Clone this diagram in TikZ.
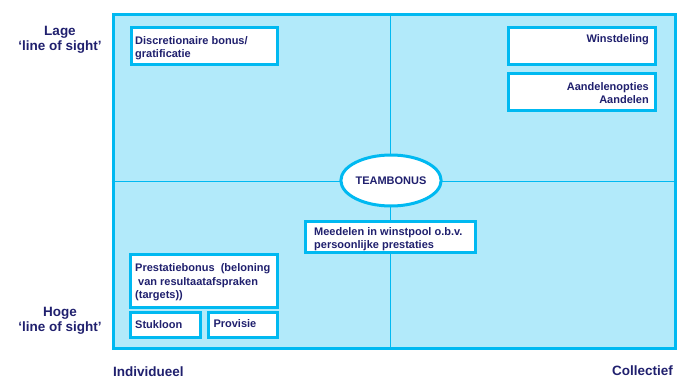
\documentclass[tikz,border=0pt]{standalone}
\usepackage{fontspec}
\setmainfont{Liberation Sans}
\usepackage{tikz}
\usetikzlibrary{shapes.geometric}
\usetikzlibrary{positioning}

\definecolor{gridfill}{RGB}{178,234,250}
\definecolor{gridline}{RGB}{0,185,241}
\definecolor{navy}{RGB}{32,32,110}

\tikzset{
  box/.style={draw=gridline, line width=3pt, fill=white, inner sep=0pt},
  boxtext/.style={text=navy, font=\fontsize{11}{13.5}\selectfont\bfseries, inner sep=0pt},
  axislabel/.style={text=navy, font=\fontsize{13.5}{15}\selectfont\bfseries, inner sep=0pt},
  midline/.style={draw=gridline, line width=1.2pt}
}

\begin{document}
\begin{tikzpicture}[x=1pt,y=-1pt]
  \useasboundingbox (0,0) rectangle (686,378);
  % quadrant field
  \node[draw=gridline, line width=3pt, fill=gridfill, inner sep=0pt,
        minimum width=562pt, minimum height=334.5pt] (field) at (394,181.25) {};
  \coordinate (vtop) at (390.5,14);
  \coordinate (vbot) at (390.5,348.5);
  \draw[midline] (vtop) -- (vbot);
  \draw[midline] (field.west) -- (field.east);

  % boxes
  \node[box, minimum width=146.7pt, minimum height=36.6pt] (discr) at (204.35,46) {};
  \node[box, minimum width=147.4pt, minimum height=37.3pt] (winst) at (582,45.65) {};
  \node[box, minimum width=147.4pt, minimum height=36.6pt] (aandel) at (582,92) {};
  \node[box, minimum width=170.2pt, minimum height=30.6pt] (meedel) at (390.6,237) {};
  \node[box, minimum width=147.7pt, minimum height=52.7pt] (prest) at (203.85,280.65) {};
  \node[box, minimum width=70.3pt, minimum height=24.3pt] (stuk) at (165.15,324.85) {};
  \node[box, minimum width=69.4pt, minimum height=24.3pt] (prov) at (243,324.85) {};
  \node[box, ellipse, minimum width=93pt, minimum height=51pt] (team) at (391,180.5)
    {\textcolor{navy}{\fontsize{11}{13}\selectfont\bfseries TEAMBONUS}};

  % box texts
  \node[boxtext, anchor=north west, align=left] (discrt) at (135,36.3)
    {Discretionaire bonus/\\gratificatie};
  \node[boxtext, anchor=north east, align=right] (winstt) at (649,34.4) {Winstdeling};
  \node[boxtext, anchor=north east, align=right] (aandelt) at (649,82.1)
    {Aandelenopties\\Aandelen};
  \node[boxtext, anchor=north west, align=left] (meedelt) at (314,227)
    {Meedelen in winstpool o.b.v.\\persoonlijke prestaties};
  \node[boxtext, anchor=north west, align=left] (prestt) at (135,263.5)
    {Prestatiebonus\ \ (beloning\\\hspace*{3pt}van resultaatafspraken\\(targets))};
  \node[boxtext, anchor=north west] (stukt) at (135,320.4) {Stukloon};
  \node[boxtext, anchor=north west] (provt) at (213.3,319.4) {Provisie};

  % axis labels
  \node[axislabel, anchor=north, align=center] (lage) at (60,26)
    {Lage\\`line of sight'};
  \node[axislabel, anchor=north, align=center] (hoge) at (60,307)
    {Hoge\\`line of sight'};
  \node[axislabel, anchor=base west] (indiv) at (113,376.5) {Individueel};
  \node[axislabel, anchor=base east] (coll) at (673,375.5) {Collectief};
\end{tikzpicture}
\end{document}
